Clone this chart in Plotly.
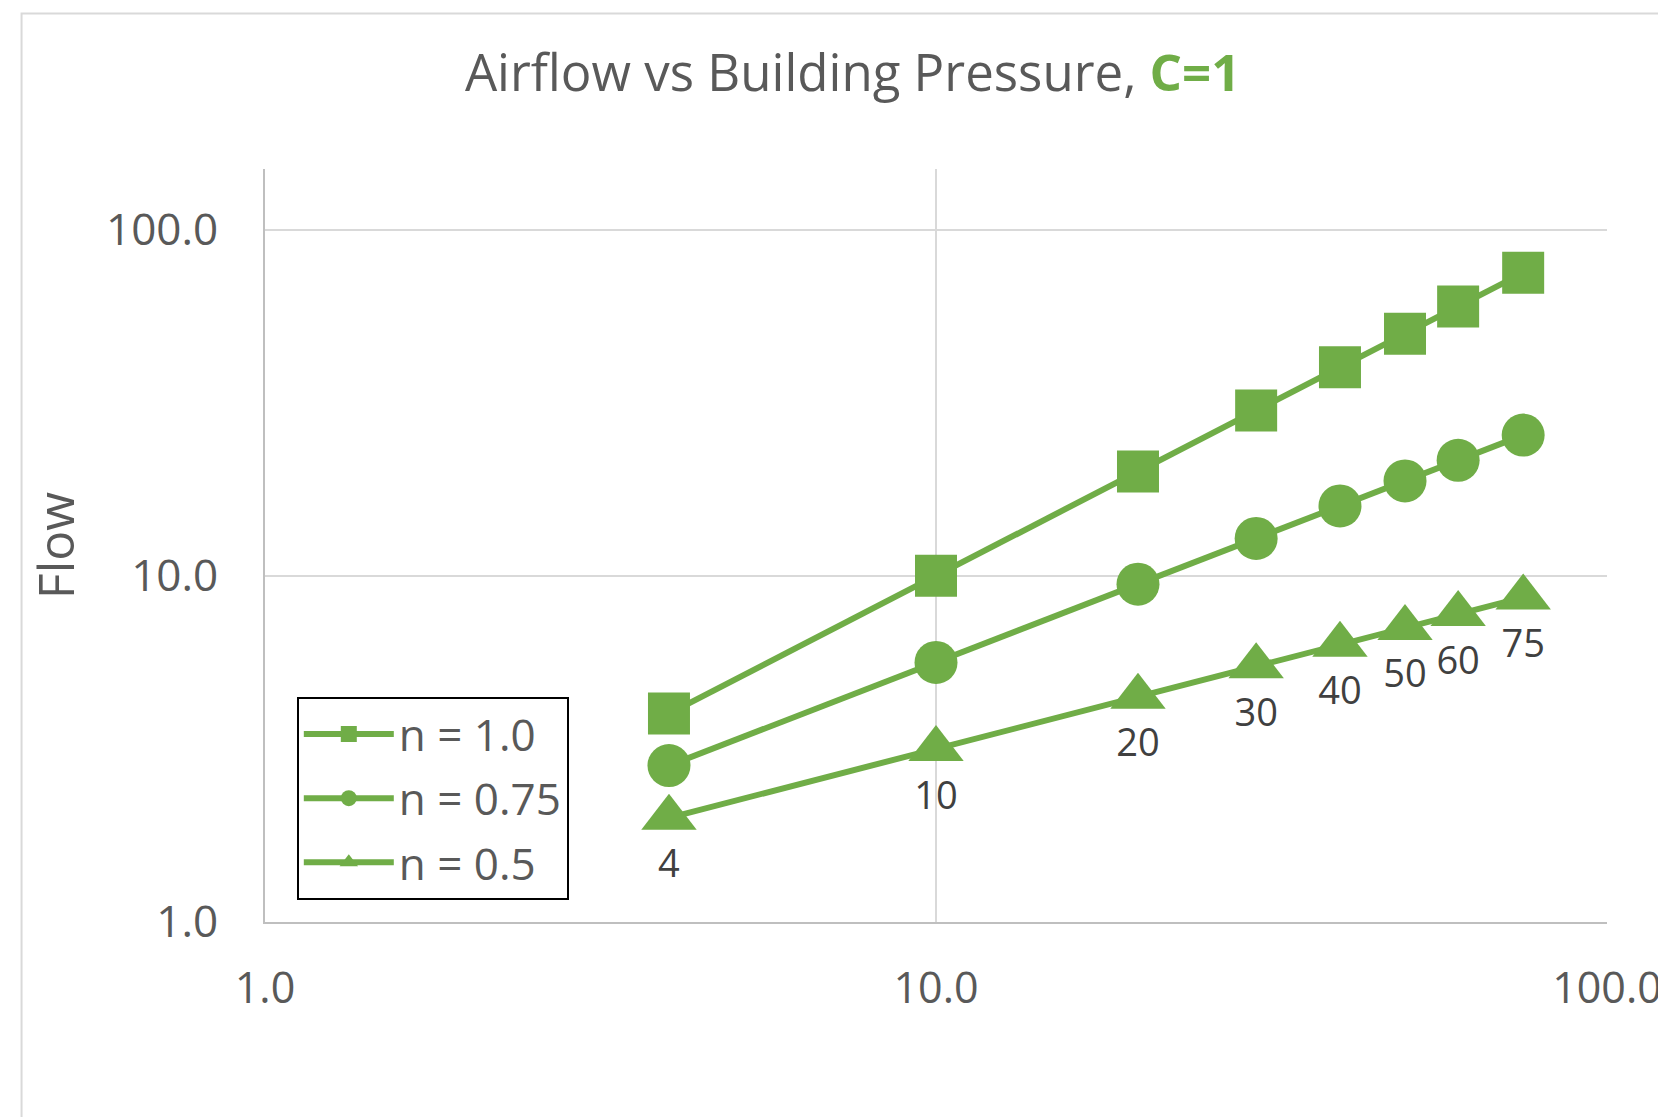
import plotly.graph_objects as go

pressure = [4, 10, 20, 30, 40, 50, 60, 75]
flow_n100 = [4.0, 10.0, 20.0, 30.0, 40.0, 50.0, 60.0, 75.0]
flow_n075 = [2.83, 5.62, 9.46, 12.82, 15.91, 18.80, 21.56, 25.49]
flow_n050 = [2.00, 3.16, 4.47, 5.48, 6.32, 7.07, 7.75, 8.66]
point_labels = ["4", "10", "20", "30", "40", "50", "60", "75"]
series_names = ["n = 1.0", "n = 0.75", "n = 0.5"]

GREEN = "#70AD47"
GRAY = "#595959"
FONT = "Open Sans"

fig = go.Figure()
fig.add_trace(go.Scatter(
    x=pressure, y=flow_n100, name=series_names[0], mode="lines+markers",
    line=dict(color=GREEN, width=6),
    marker=dict(symbol="square", size=42, color=GREEN),
    legendgroup="a",
))
fig.add_trace(go.Scatter(
    x=pressure, y=flow_n075, name=series_names[1], mode="lines+markers",
    line=dict(color=GREEN, width=6),
    marker=dict(symbol="circle", size=43, color=GREEN),
    legendgroup="b",
))
fig.add_trace(go.Scatter(
    x=pressure, y=flow_n050, name=series_names[2], mode="lines+markers+text",
    line=dict(color=GREEN, width=6),
    marker=dict(symbol="triangle-up", size=48, color=GREEN),
    text=point_labels, textposition="bottom center",
    textfont=dict(family=FONT, size=38, color="#404040"),
    legendgroup="c",
))

fig.update_layout(
    width=1666, height=1117,
    margin=dict(l=257, r=64, t=161, b=203),
    paper_bgcolor="white", plot_bgcolor="white",
    font=dict(family=FONT, color=GRAY),
    title=dict(
        text="Airflow vs Building Pressure, <span style='color:%s'><b>C=1</b></span>" % GREEN,
        x=0.507, xanchor="center", y=1 - 65 / 1117, yanchor="middle",
        font=dict(family=FONT, size=51, color=GRAY),
    ),
    showlegend=True,
    legend=dict(
        x=0.0237, y=0.299, xanchor="left", yanchor="top",
        bordercolor="black", borderwidth=2, bgcolor="white",
        font=dict(family=FONT, size=44, color=GRAY),
        tracegroupgap=4, itemsizing="trace", itemwidth=90,
    ),
    shapes=[dict(
        type="rect", xref="paper", yref="paper",
        x0=-0.1814, x1=1.1, y0=-0.266, y1=1.2065,
        line=dict(color="#D9D9D9", width=2), layer="below",
    )],
)

fig.update_xaxes(
    type="log", range=[0, 2], dtick=1, tickformat=".1f",
    showgrid=True, gridcolor="#D9D9D9", gridwidth=2,
    showline=True, linecolor="#BFBFBF", linewidth=2,
    zeroline=False, ticks="", ticklabelstandoff=27,
    tickfont=dict(family=FONT, size=43, color=GRAY),
    mirror=False,
)
fig.update_yaxes(
    type="log", range=[0, 2.175], dtick=1, tickformat=".1f",
    showgrid=True, gridcolor="#D9D9D9", gridwidth=2,
    showline=True, linecolor="#BFBFBF", linewidth=2,
    zeroline=False, ticks="", ticklabelstandoff=36,
    tickfont=dict(family=FONT, size=44, color=GRAY),
    title=dict(text="Flow", font=dict(family=FONT, size=50, color=GRAY), standoff=15),
)

fig.write_html("out.html")
